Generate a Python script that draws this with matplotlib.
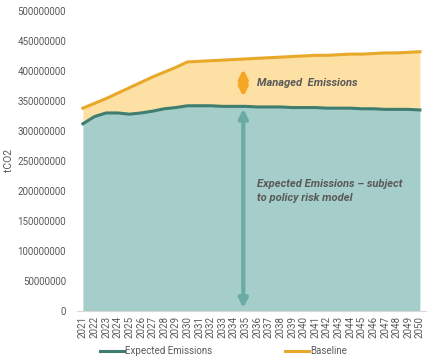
import matplotlib
matplotlib.use("Agg")
import matplotlib.pyplot as plt
import numpy as np

years = list(range(2021, 2051))
baseline = [338, 346, 354, 363, 372, 381, 390, 398, 406, 415,
            416, 417, 418, 419, 420, 421, 422, 423, 424, 425,
            426, 426, 427, 428, 428, 429, 430, 430, 431, 432]
expected = [312, 324, 330, 330, 328, 330, 333, 337, 339, 342,
            342, 342, 341, 341, 341, 340, 340, 340, 339, 339,
            339, 338, 338, 338, 337, 337, 336, 336, 336, 335]
baseline = np.array(baseline) * 1e6
expected = np.array(expected) * 1e6

plt.rcParams['font.family'] = ['Roboto', 'DejaVu Sans']

fig = plt.figure(figsize=(4.38, 3.63), dpi=100)
ax = fig.add_axes([0.176, 0.143, 0.796, 0.827])

teal_fill = "#a5cdc9"
teal_line = "#3f7d70"
yel_fill = "#fde0a3"
yel_line = "#e8a82a"

ax.fill_between(years, 0, expected, color=teal_fill, lw=0)
ax.fill_between(years, expected, baseline, color=yel_fill, lw=0)
ax.plot(years, expected, color=teal_line, lw=2.2, label="Expected Emissions")
ax.plot(years, baseline, color=yel_line, lw=2.2, label="Baseline")

ax.set_xlim(2020.5, 2050.5)
ax.set_ylim(0, 500000000)
ax.set_yticks(np.arange(0, 500000001, 50000000))
ax.set_yticklabels([str(v) for v in range(0, 500000001, 50000000)])
ax.set_xticks(years)
ax.set_xticklabels([str(y) for y in years], rotation=90)
ax.tick_params(axis='both', labelsize=7, colors="#595959", length=0)
ax.tick_params(axis='y', pad=8)
for s in ['top', 'right', 'left']:
    ax.spines[s].set_visible(False)
ax.spines['bottom'].set_color("#d9d9d9")
ax.set_ylabel("tCO2", fontsize=7.5, color="#595959", labelpad=2)

# annotation arrows
ax.annotate("", xy=(2034.8, 357e6), xytext=(2034.8, 403e6),
            arrowprops=dict(arrowstyle="<|-|>", color="#f5a623", lw=3,
                            mutation_scale=13, shrinkA=0, shrinkB=0))
ax.annotate("", xy=(2034.8, 5e6), xytext=(2034.8, 337e6),
            arrowprops=dict(arrowstyle="<|-|>", color="#6aaba3", lw=3,
                            mutation_scale=13, shrinkA=0, shrinkB=0))
ax.text(2036.0, 380e6, "Managed  Emissions", fontsize=8, style='italic',
        weight='bold', color="#595959", va='center')
ax.text(2036.0, 200e6, "Expected Emissions \u2013 subject\nto policy risk model",
        fontsize=8, style='italic', weight='bold', color="#595959",
        va='center', linespacing=1.5)

fig.legend(loc='lower center', ncol=2, frameon=False, fontsize=7,
           bbox_to_anchor=(0.51, -0.005), handlelength=2.5, handletextpad=0.1,
           columnspacing=7.5, labelcolor="#595959")

fig.savefig("out.png", dpi=100)
